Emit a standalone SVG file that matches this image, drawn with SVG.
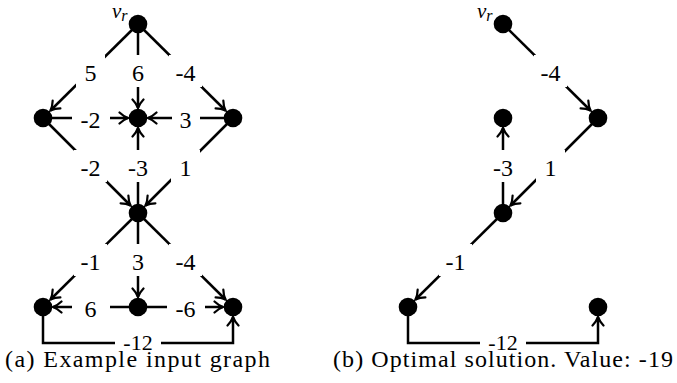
<svg xmlns="http://www.w3.org/2000/svg" width="677" height="383" viewBox="0 0 677 383">
<defs>
<style>
.e{stroke:#000;stroke-width:2.5;fill:none}
.a{marker-end:url(#arr)}
.n{fill:#000}
.lb{fill:#fff;stroke:none}
.t{font-family:"Liberation Serif","DejaVu Serif",serif;font-size:24px;fill:#000;text-anchor:middle}
.t2{font-family:"Liberation Serif","DejaVu Serif",serif;font-size:22px;fill:#000;text-anchor:middle}
.cap{font-family:"Liberation Serif","DejaVu Serif",serif;font-size:24px;fill:#000}
.vi{font-family:"Liberation Serif","DejaVu Serif",serif;font-style:italic;fill:#000}
</style>
<marker id="arr" markerUnits="userSpaceOnUse" viewBox="-11 -8 13 16" markerWidth="13" markerHeight="16" refX="0" refY="0" orient="auto">
<path d="M-8.5,-5.5 C-5.5,-2.6 -2.2,-0.8 0,0 C-2.2,0.8 -5.5,2.6 -8.5,5.5" fill="none" stroke="#000" stroke-width="2.2" stroke-linecap="round"/>
</marker>
</defs>
<rect width="677" height="383" fill="#fff"/>

<g id="connectors">
<line class="e a" x1="138" y1="24" x2="50.5" y2="110.5"/>
<line class="e a" x1="138" y1="24" x2="138" y2="108"/>
<line class="e a" x1="138" y1="24" x2="225.5" y2="110.5"/>
<line class="e a" x1="43" y1="118" x2="128" y2="118"/>
<line class="e a" x1="233" y1="118" x2="148" y2="118"/>
<line class="e a" x1="43" y1="118" x2="130.5" y2="205.5"/>
<line class="e a" x1="138" y1="213" x2="138" y2="128"/>
<line class="e a" x1="233" y1="118" x2="145.5" y2="205.5"/>
<line class="e a" x1="138" y1="213" x2="50.5" y2="299.5"/>
<line class="e a" x1="138" y1="213" x2="138" y2="297"/>
<line class="e a" x1="138" y1="213" x2="225.5" y2="299.5"/>
<line class="e a" x1="138" y1="307" x2="53" y2="307"/>
<line class="e a" x1="138" y1="307" x2="223" y2="307"/>
<path class="e a" d="M43,307 V343 H233 V317"/>
<line class="e a" x1="503" y1="24" x2="590.5" y2="110.5"/>
<line class="e a" x1="598" y1="118" x2="510.5" y2="205.5"/>
<line class="e a" x1="503" y1="213" x2="503" y2="128"/>
<line class="e a" x1="503" y1="213" x2="415.5" y2="299.5"/>
<path class="e a" d="M408,307 V343 H598 V317"/>
</g>

<g id="edge-labels">
<rect class="lb" x="76" y="55" width="29" height="32"/><text class="t" x="90.5" y="81">5</text>
<rect class="lb" x="124" y="55" width="28" height="32"/><text class="t" x="138" y="81">6</text>
<rect class="lb" x="169" y="55" width="33" height="32"/><text class="t" x="185.5" y="81">-4</text>
<rect class="lb" x="72" y="102" width="38" height="32"/><text class="t" x="90.5" y="128">-2</text>
<rect class="lb" x="172" y="102" width="28" height="32"/><text class="t" x="185.5" y="128">3</text>
<rect class="lb" x="74" y="150" width="33" height="32"/><text class="t" x="90.5" y="175.5">-2</text>
<rect class="lb" x="120" y="150" width="36" height="32"/><text class="t" x="138" y="175.5">-3</text>
<rect class="lb" x="171" y="150" width="29" height="32"/><text class="t" x="185.5" y="175.5">1</text>
<rect class="lb" x="74" y="244" width="33" height="32"/><text class="t" x="90.5" y="270">-1</text>
<rect class="lb" x="124" y="244" width="28" height="32"/><text class="t" x="138" y="270">3</text>
<rect class="lb" x="169" y="244" width="33" height="32"/><text class="t" x="185.5" y="270">-4</text>
<rect class="lb" x="72" y="291" width="38" height="32"/><text class="t" x="90.5" y="317">6</text>
<rect class="lb" x="167" y="291" width="38" height="32"/><text class="t" x="185.5" y="317">-6</text>
<rect class="lb" x="115" y="330" width="46" height="24"/><text class="t2" x="138" y="350">-12</text>

<rect class="lb" x="534" y="55" width="33" height="32"/><text class="t" x="550.5" y="81">-4</text>
<rect class="lb" x="536" y="150" width="29" height="32"/><text class="t" x="550.5" y="175.5">1</text>
<rect class="lb" x="485" y="150" width="36" height="32"/><text class="t" x="503" y="175.5">-3</text>
<rect class="lb" x="439" y="244" width="33" height="32"/><text class="t" x="455.5" y="270">-1</text>
<rect class="lb" x="480" y="330" width="46" height="24"/><text class="t2" x="503" y="350">-12</text>
</g>

<g id="left-graph-nodes">
<g id="a-vr"><circle class="n" cx="138" cy="24" r="9.3"/><text class="vi" x="112" y="18" font-size="21">v<tspan font-size="16" dy="3">r</tspan></text></g>
<g id="a-l"><circle class="n" cx="43" cy="118" r="9.3"/></g>
<g id="a-c"><circle class="n" cx="138" cy="118" r="9.3"/></g>
<g id="a-r"><circle class="n" cx="233" cy="118" r="9.3"/></g>
<g id="a-d"><circle class="n" cx="138" cy="213" r="9.3"/></g>
<g id="a-bl"><circle class="n" cx="43" cy="307" r="9.3"/></g>
<g id="a-bc"><circle class="n" cx="138" cy="307" r="9.3"/></g>
<g id="a-br"><circle class="n" cx="233" cy="307" r="9.3"/></g>
</g>

<g id="right-graph-nodes">
<g id="b-vr"><circle class="n" cx="503" cy="24" r="9.3"/><text class="vi" x="477" y="18" font-size="21">v<tspan font-size="16" dy="3">r</tspan></text></g>
<g id="b-c"><circle class="n" cx="503" cy="118" r="9.3"/></g>
<g id="b-r"><circle class="n" cx="598" cy="118" r="9.3"/></g>
<g id="b-d"><circle class="n" cx="503" cy="213" r="9.3"/></g>
<g id="b-bl"><circle class="n" cx="408" cy="307" r="9.3"/></g>
<g id="b-br"><circle class="n" cx="598" cy="307" r="9.3"/></g>
</g>

<g id="captions">
<text class="cap" x="5" y="367" textLength="265" lengthAdjust="spacing">(a) Example input graph</text>
<text class="cap" x="333" y="367" textLength="340" lengthAdjust="spacing">(b) Optimal solution. Value: -19</text>
</g>
</svg>
